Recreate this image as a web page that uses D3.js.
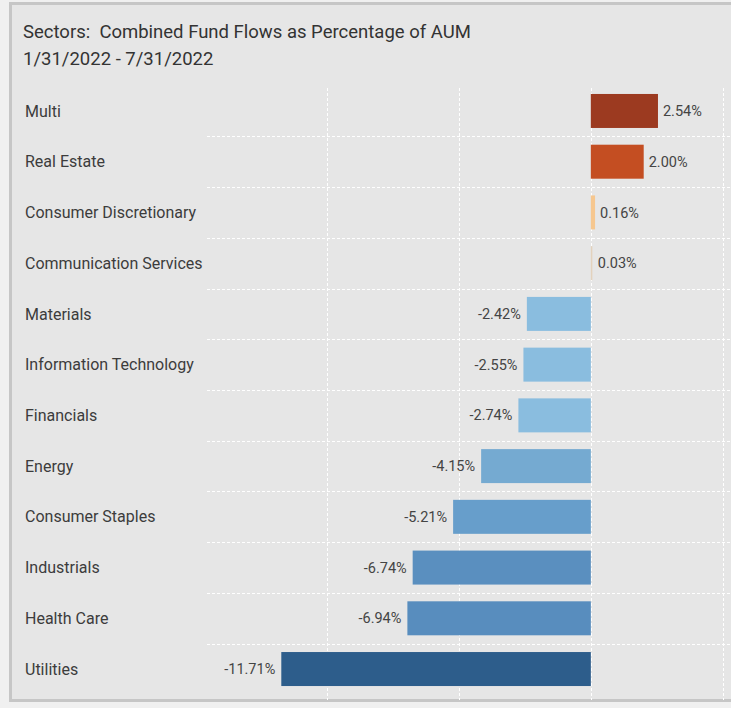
<!DOCTYPE html>
<html>
<head>
<meta charset="utf-8">
<script src="https://cdn.jsdelivr.net/npm/d3@7"></script>
<style>
html,body{margin:0;padding:0;background:#f0f0f0;}
svg{display:block;}
text{font-family:"Roboto",sans-serif;white-space:pre;}
</style>
</head>
<body>
<svg id="chart" width="731" height="708"></svg>
<script>
const categories = ["Multi","Real Estate","Consumer Discretionary","Communication Services","Materials","Information Technology","Financials","Energy","Consumer Staples","Industrials","Health Care","Utilities"];
const values = [2.54, 2.00, 0.16, 0.03, -2.42, -2.55, -2.74, -4.15, -5.21, -6.74, -6.94, -11.71];
const colors = ["#9c3a20","#c44e22","#f6c78f","#e3d2bd","#8abddf","#8abddf","#8abddf","#75aad1","#679ecb","#5a8fbf","#588dbe","#2d5d8b"];
const xTicks = [-10, -5, 0, 5];
const titleLines = ["Sectors:  Combined Fund Flows as Percentage of AUM", "1/31/2022 - 7/31/2022"];

const svg = d3.select("#chart");
// panel
svg.append("rect").attr("x", 10.5).attr("y", 3.5).attr("width", 740).attr("height", 697)
  .attr("fill", "#e6e6e6").attr("stroke", "#c6c6c6").attr("stroke-width", 3);

// title
svg.append("g").selectAll("text").data(titleLines).join("text")
  .attr("x", 23).attr("y", (d, i) => 38 + i * 27)
  .attr("xml:space", "preserve")
  .attr("font-size", 18.5).attr("fill", "#333")
  .text(d => d);

const x = d3.scaleLinear().domain([-10, 5]).range([326.5, 723]);
const y = d3.scaleBand().domain(categories).range([85.6, 694.4]).paddingInner(0.33).paddingOuter(0.165);

// vertical grid
svg.append("g").selectAll("line").data(xTicks).join("line")
  .attr("x1", d => Math.round(x(d)) + 0.5).attr("x2", d => Math.round(x(d)) + 0.5)
  .attr("y1", 88).attr("y2", 700)
  .attr("stroke", "#ffffff").attr("stroke-width", 1).attr("stroke-dasharray", "3,2");

// horizontal grid between rows
const bounds = categories.slice(1).map(c => y(c) - y.step() * y.paddingInner() / 2);
svg.append("g").selectAll("line").data(bounds).join("line")
  .attr("x1", 207).attr("x2", 731)
  .attr("y1", d => Math.round(d) + 0.5).attr("y2", d => Math.round(d) + 0.5)
  .attr("stroke", "#ffffff").attr("stroke-width", 1).attr("stroke-dasharray", "3,2");

// category labels
svg.append("g").selectAll("text").data(categories).join("text")
  .attr("x", 25).attr("y", d => y(d) + y.bandwidth() / 2)
  .attr("dy", "0.35em").attr("font-size", 16).attr("fill", "#3c3c3c")
  .text(d => d);

// bars
const data = categories.map((c, i) => ({c, v: values[i], col: colors[i]}));
svg.append("g").selectAll("rect").data(data).join("rect")
  .attr("x", d => x(Math.min(0, d.v)))
  .attr("width", d => Math.max(1.5, Math.abs(x(d.v) - x(0))))
  .attr("y", d => y(d.c)).attr("height", y.bandwidth())
  .attr("fill", d => d.col);

// value labels
svg.append("g").selectAll("text").data(data).join("text")
  .attr("x", d => d.v >= 0 ? Math.max(x(d.v), x(0) + 2) + 5 : x(d.v) - 6)
  .attr("text-anchor", d => d.v >= 0 ? "start" : "end")
  .attr("y", d => y(d.c) + y.bandwidth() / 2)
  .attr("dy", "0.35em").attr("font-size", 14.5).attr("fill", "#444")
  .text(d => d.v.toFixed(2) + "%");
</script>
</body>
</html>
